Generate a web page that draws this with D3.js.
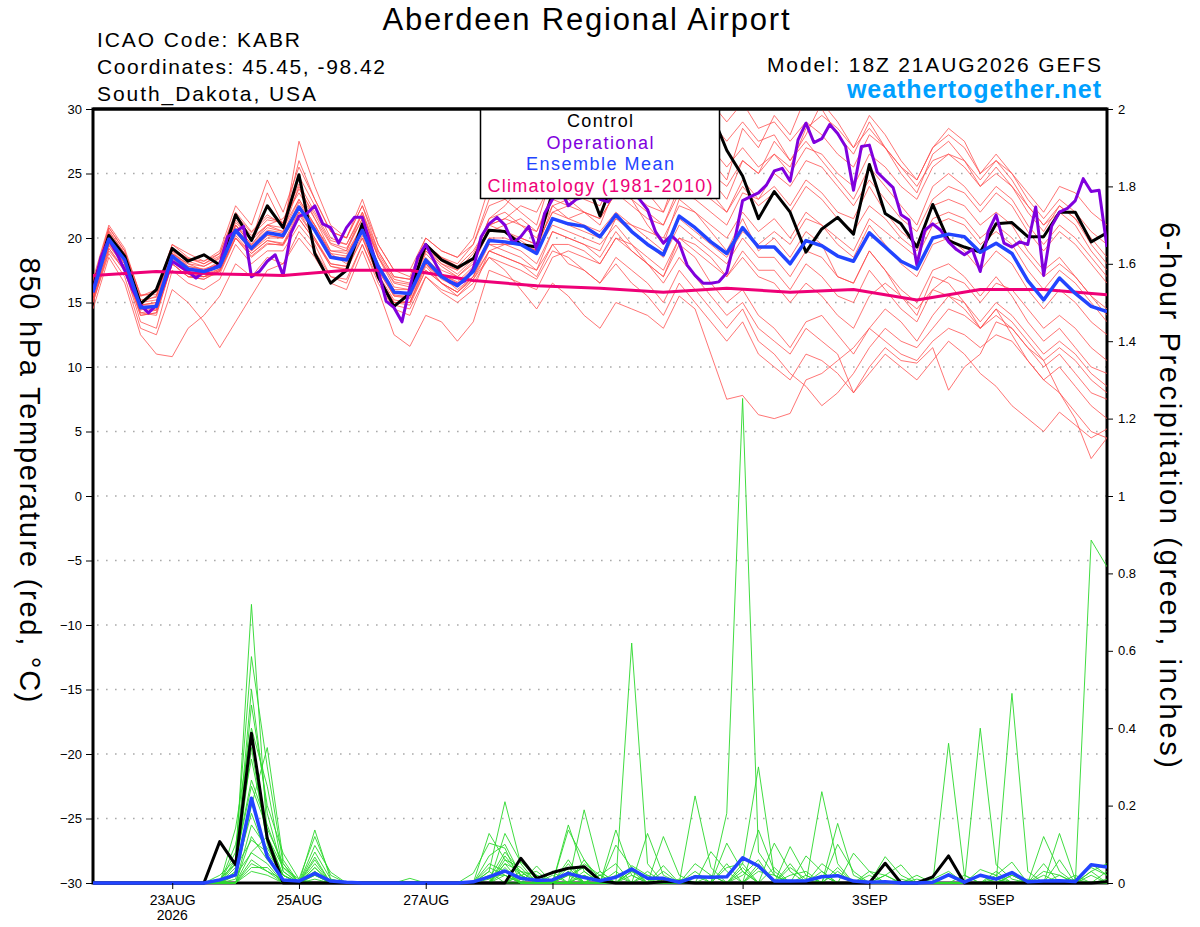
<!DOCTYPE html>
<html><head><meta charset="utf-8">
<script src="https://cdn.jsdelivr.net/npm/d3@7"></script>
<style>
body{margin:0;background:#fff}
svg{display:block}
text{font-family:"Liberation Sans",Arial,Helvetica,sans-serif}
</style>
</head><body>
<svg id="c" width="1200" height="927"></svg>
<script>
// ---------------- DATA ----------------
const runStart = Date.UTC(2026, 7, 21, 18);   // 18Z 21AUG2026
const stepHours = 6;        // ensemble / control / mean
const opStepHours = 3;      // operational
const climStepHours = 24;   // climatology

const tempTicks = [-30,-25,-20,-15,-10,-5,0,5,10,15,20,25,30];
const tempGrid = [-25,-20,-15,-10,-5,0,5,10,15,20,25];
const precipTicks = [0,0.2,0.4,0.6,0.8,1,1.2,1.4,1.6,1.8,2];
const precipTickLabels = ["0","0.2","0.4","0.6","0.8","1","1.2","1.4","1.6","1.8","2"];
const dateTicks = [[2026,7,23],[2026,7,25],[2026,7,27],[2026,7,29],[2026,8,1],[2026,8,3],[2026,8,5]];
const dateTickLabels = ["23AUG","25AUG","27AUG","29AUG","1SEP","3SEP","5SEP"];
const yearLabel = "2026";

const controlTemp = [16.2,20.2,18.6,14.9,16.0,19.2,18.2,18.7,17.9,21.8,19.8,22.5,20.8,
 24.9,18.8,16.5,17.5,21.1,17.0,14.7,15.7,19.5,18.3,17.7,18.4,
 20.6,20.5,19.5,19.3,23.5,25.5,25.0,21.7,25.0,26.5,27.0,27.5,28.0,29.0,29.8,26.8,
 24.8,21.5,23.6,22.0,18.9,20.7,21.6,20.3,25.7,21.9,21.1,19.3,22.6,19.8,19.3,18.9,21.1,21.2,20.1,20.1,22.0,22.0,19.7,20.4];

const meanTemp = [15.8,19.9,18.3,14.6,14.7,18.6,17.6,17.4,17.8,20.6,19.2,20.4,20.2,
 22.4,20.6,18.5,18.3,20.6,17.8,15.8,15.7,18.3,17.0,16.3,17.4,
 19.8,19.7,19.5,18.8,21.5,21.1,20.9,20.1,21.8,20.5,19.5,18.7,21.7,20.8,19.7,18.8,
 20.8,19.3,19.3,18.0,19.8,19.4,18.6,18.2,20.4,19.3,18.2,17.6,20.0,20.3,20.1,18.9,19.6,18.8,16.7,15.2,16.9,15.7,14.7,14.3];

const operationalTemp = [15.8,18.5,19.9,18.8,17.5,16.0,14.8,14.2,14.8,16.5,18.2,17.8,17.4,16.9,17.4,17.6,
 17.9,20.1,20.5,20.9,17.0,17.4,18.2,18.7,17.1,20.4,21.7,21.9,22.5,21.1,20.8,19.6,
 20.8,21.6,21.6,19.6,17.5,15.1,14.6,13.5,16.2,18.5,19.5,18.3,17.1,16.6,16.4,16.7,
 17.6,20.1,21.1,21.6,21.0,19.6,20.1,20.9,19.1,21.9,23.0,23.8,22.5,23.0,23.2,23.8,
 23.0,22.8,23.5,24.0,23.6,23.0,22.2,20.5,19.6,20.2,19.6,17.9,17.1,16.5,16.5,16.6,
 17.3,19.8,22.9,23.2,23.5,24.1,25.2,25.4,24.4,27.6,28.9,27.4,27.7,28.8,28.1,27.1,
 23.7,27.1,27.2,25.1,24.5,23.9,21.8,21.4,17.9,20.6,21.1,20.6,19.7,19.1,18.7,19.1,
 17.4,20.5,21.8,19.6,19.3,19.7,19.5,22.4,17.1,20.9,22.0,22.3,22.9,24.6,23.6,23.7,19.3];

const climatologyTemp = [17.1,17.4,17.2,17.1,17.5,17.5,16.7,16.3,16.1,15.8,16.1,15.8,16.0,15.2,16.0,16.0,15.6];

const ensembleTemp = [
 [16.2,20.5,18.8,15.0,15.2,19.0,18.2,17.8,18.5,21.2,20.0,21.0,21.5,23.5,21.5,19.5,19.0,21.5,18.5,16.5,16.2,19.0,18.0,17.5,18.5,21.5,22.0,21.0,20.5,23.5,24.0,23.0,22.5,25.0,24.0,23.5,22.0,25.5,26.0,24.5,23.0,26.0,25.0,27.5,26.0,28.0,30.5,29.0,27.0,29.5,28.0,26.0,24.5,27.0,28.5,27.5,25.0,26.5,25.0,23.0,21.5,23.0,22.0,20.5,19.5],
 [15.5,19.5,17.8,14.0,14.2,18.0,17.0,16.8,17.5,20.0,18.8,19.8,19.5,21.8,20.0,17.8,17.5,20.0,17.0,15.0,15.0,17.5,16.5,15.5,16.8,18.5,18.0,17.5,16.8,19.0,18.5,17.5,16.5,18.0,16.5,15.5,14.0,16.5,15.0,13.5,12.0,13.5,11.0,10.0,9.0,11.0,10.5,9.5,8.0,9.5,11.0,10.0,9.0,10.5,12.0,11.0,9.5,8.5,7.0,6.0,5.0,6.5,5.5,4.5,5.2],
 [16.5,20.8,19.0,15.5,15.8,19.5,18.5,18.0,18.8,22.0,20.5,21.8,21.0,24.8,22.5,20.0,19.5,22.0,19.0,17.0,16.8,19.5,18.5,17.8,19.0,21.0,20.5,19.8,19.0,22.5,23.0,22.0,21.0,24.0,23.0,21.0,19.5,23.0,22.0,20.5,19.0,21.5,19.0,20.0,18.5,20.5,19.5,17.0,16.5,19.0,17.5,15.5,14.0,17.0,16.5,15.0,13.0,14.5,12.5,10.5,9.0,10.0,8.5,7.0,6.0],
 [15.0,19.0,17.5,13.5,13.0,17.5,16.5,16.0,16.8,19.5,18.0,19.0,19.0,21.0,19.5,17.0,16.5,19.5,16.5,14.5,14.0,17.0,15.8,15.0,16.0,19.0,19.5,20.0,19.5,22.0,21.5,22.0,21.5,23.5,22.5,21.5,21.0,24.0,24.5,23.5,22.0,24.5,23.0,24.0,22.5,24.5,23.5,22.0,21.5,24.0,22.0,20.5,19.5,22.5,23.0,22.5,21.0,22.0,21.0,19.0,17.5,18.5,17.0,15.5,14.5],
 [14.5,18.5,16.5,12.5,11.0,10.8,13.0,14.0,15.5,18.0,17.0,18.5,18.0,20.0,18.5,16.5,16.0,19.0,16.0,12.5,11.6,14.0,13.5,12.0,13.5,17.5,17.0,16.5,16.0,18.5,19.0,18.5,18.0,20.0,19.0,18.0,17.0,20.0,19.5,18.5,17.0,19.0,17.5,17.5,16.0,18.0,17.0,15.5,15.0,17.5,16.0,14.5,13.5,16.0,15.5,14.5,13.0,14.0,13.0,11.5,10.0,11.0,9.5,8.0,7.5],
 [16.0,20.2,18.5,14.8,15.0,18.8,18.0,17.5,18.0,21.0,19.5,21.0,20.5,27.5,24.0,21.0,20.0,23.0,19.5,17.5,17.0,20.0,19.0,18.5,20.0,24.0,23.0,22.0,21.0,25.0,26.0,24.5,23.5,27.0,26.0,25.0,23.5,28.0,27.0,26.0,24.5,28.5,27.0,29.5,28.0,31.0,30.0,28.0,26.5,29.0,27.0,25.0,23.5,26.5,27.5,26.0,24.0,25.5,24.0,22.0,20.5,22.5,21.5,19.5,18.0],
 [15.5,19.8,18.0,14.5,14.5,18.5,17.2,17.0,17.5,20.5,19.0,20.0,20.0,22.0,20.5,18.5,18.5,21.0,17.5,15.5,15.5,18.0,17.0,16.0,17.0,20.0,19.5,19.0,18.0,20.5,20.0,19.5,18.5,20.5,19.0,18.0,17.0,19.5,18.5,16.5,15.0,16.0,14.0,13.0,11.5,13.5,14.0,12.5,11.0,13.0,14.5,13.5,12.0,14.0,15.5,15.0,13.5,15.0,14.0,12.5,11.0,12.0,11.0,9.5,8.5],
 [16.8,21.0,19.2,15.5,16.0,19.5,18.8,18.2,19.0,22.5,21.0,24.5,22.0,25.5,23.0,20.5,20.0,22.5,19.5,17.5,17.5,20.0,19.0,18.5,19.5,22.5,23.0,23.5,23.0,26.0,26.5,27.0,26.0,29.0,28.5,27.5,26.0,29.5,30.5,29.0,27.5,29.0,27.5,28.0,26.0,27.5,26.0,24.5,23.0,25.5,24.0,22.5,21.0,24.0,25.0,24.0,22.5,24.0,23.0,21.0,19.5,21.0,20.0,18.5,17.0],
 [15.2,19.2,17.6,14.2,14.0,18.0,17.0,17.0,17.2,20.0,18.5,19.5,19.5,21.5,19.8,18.0,17.8,20.5,17.0,15.0,15.0,18.0,16.5,15.8,17.0,19.0,18.5,18.0,17.0,19.5,18.0,17.5,16.5,18.5,17.5,16.5,15.0,17.5,16.0,14.5,13.0,14.5,12.0,11.0,9.5,8.5,7.0,8.0,9.5,11.5,13.0,12.0,11.5,13.0,14.5,14.0,13.0,14.5,13.5,12.0,10.5,8.0,6.0,2.9,4.5],
 [16.0,20.0,18.5,15.0,15.5,19.0,17.8,17.5,18.2,21.0,19.8,21.0,20.8,23.0,21.0,19.0,18.8,21.0,18.0,16.0,16.0,18.8,17.5,17.0,18.0,20.5,21.0,21.5,20.5,23.0,22.5,23.5,23.0,24.5,23.5,22.5,22.0,24.5,23.5,23.0,22.0,24.0,22.5,23.5,22.0,24.0,23.0,21.5,20.5,22.5,21.5,20.0,19.0,21.5,22.0,21.5,20.0,21.0,20.0,18.5,17.0,18.0,17.0,15.5,14.0],
 [15.8,19.6,18.2,14.4,14.8,18.6,17.4,17.2,17.6,20.4,19.0,20.2,20.0,22.5,21.0,18.8,18.0,20.5,17.5,15.5,15.3,18.0,16.8,16.2,17.5,20.0,20.0,19.5,19.0,21.5,21.0,20.5,20.0,21.5,20.5,19.5,18.5,21.0,20.0,19.0,18.0,20.0,18.5,18.5,17.0,19.0,18.5,17.0,16.5,19.0,17.5,16.0,15.0,17.5,18.0,17.0,15.5,17.0,15.5,13.5,12.0,13.0,11.5,10.0,9.5],
 [16.2,20.2,18.4,14.8,15.0,18.8,17.8,17.6,18.0,21.0,19.5,20.8,20.5,24.0,21.5,19.0,19.0,22.0,18.5,16.2,16.0,19.0,17.8,17.0,18.2,21.5,22.5,24.0,25.5,28.0,29.0,30.5,29.0,31.0,30.0,28.5,27.0,29.5,28.5,27.0,25.5,27.0,25.5,26.5,25.0,27.0,26.5,25.0,24.0,26.5,25.5,24.0,23.0,25.5,26.5,26.0,24.5,26.0,25.0,23.5,22.0,24.0,23.5,22.0,21.0],
 [15.4,19.4,17.8,14.2,14.4,18.2,17.2,17.0,17.4,20.2,18.8,19.8,19.6,22.0,20.0,18.0,17.8,20.2,17.2,15.2,15.0,17.8,16.5,15.8,17.0,19.5,19.0,18.5,17.5,20.5,20.0,19.5,19.0,21.5,21.0,20.5,20.0,22.5,22.0,21.0,20.0,22.0,20.5,21.5,20.0,22.0,21.0,19.5,18.5,21.0,19.5,18.0,17.0,19.5,20.0,19.0,17.5,19.0,18.0,16.0,14.5,16.0,15.0,13.5,12.5],
 [15.0,18.8,17.0,13.0,12.5,16.0,15.0,13.5,11.5,13.5,15.5,17.5,18.0,20.5,19.0,17.0,16.8,19.5,16.8,14.8,14.5,17.0,16.0,15.5,16.5,18.5,17.5,16.0,14.5,16.5,15.5,14.0,13.0,15.0,14.5,14.0,13.0,15.5,14.5,11.0,7.5,7.8,6.3,6.0,6.4,9.0,9.5,10.5,11.5,13.0,12.0,11.0,10.5,12.0,13.0,12.5,11.5,12.5,12.0,10.5,9.0,8.0,6.5,5.0,4.5],
 [16.4,20.6,18.8,15.2,15.4,19.2,18.4,18.0,18.6,21.6,20.2,21.4,21.2,24.2,22.0,19.8,19.5,21.8,18.8,16.8,16.5,19.2,18.2,17.5,18.8,21.0,21.5,21.0,20.0,22.5,21.5,21.0,20.5,22.0,21.0,20.0,19.0,21.5,20.5,19.5,18.5,20.5,19.5,20.5,19.5,21.5,21.0,20.0,19.0,21.5,20.5,19.5,18.5,21.0,21.5,21.0,19.5,20.5,19.5,17.5,16.0,17.5,16.5,15.0,13.5],
 [16.0,20.4,18.6,14.6,14.8,18.8,18.0,17.8,18.4,21.4,19.8,23.5,21.0,26.0,23.0,20.5,20.0,22.5,19.0,17.0,16.8,19.5,18.5,18.0,19.5,23.0,24.0,24.5,24.0,26.5,27.0,26.5,26.0,28.0,27.5,26.5,25.5,28.5,29.0,30.5,29.0,30.5,28.5,29.0,27.5,29.0,28.0,26.5,25.5,28.0,27.0,25.5,24.5,27.0,28.0,27.0,25.0,26.0,24.5,22.5,21.0,22.0,21.0,19.0,17.5],
 [15.6,19.6,18.0,14.6,14.4,18.4,17.4,17.0,17.6,20.6,19.2,20.2,20.0,22.8,20.8,18.6,18.4,20.8,17.8,15.6,15.4,18.4,17.2,16.5,17.6,19.5,19.5,19.5,19.0,21.0,20.5,20.0,19.5,21.0,19.5,18.0,16.5,18.5,17.0,15.5,14.0,15.0,13.0,12.0,11.0,13.0,12.0,11.0,8.0,10.0,11.5,10.5,10.3,11.5,8.2,10.0,11.0,13.5,13.0,11.5,10.5,11.5,10.5,9.0,8.0],
 [16.6,20.8,19.0,15.6,15.6,19.2,18.4,18.2,18.8,21.8,20.4,21.6,21.2,23.8,21.8,19.6,19.2,21.5,18.6,16.6,16.4,19.2,18.0,17.2,18.4,20.5,20.5,20.0,19.5,22.0,22.5,22.0,21.5,23.5,23.0,22.0,21.0,23.5,23.0,22.0,21.0,23.5,23.0,25.0,24.0,26.0,25.5,24.0,22.5,24.5,23.0,21.5,20.5,23.0,24.0,23.5,22.0,23.5,22.5,20.5,19.0,20.5,19.5,18.0,16.5],
 [15.2,19.2,17.4,14.0,14.2,18.0,17.0,16.8,17.4,20.0,18.6,19.6,19.4,21.5,19.8,17.8,17.6,20.0,17.0,15.0,14.8,17.5,16.5,15.8,16.8,19.0,18.5,18.0,17.5,19.5,19.5,19.0,18.0,20.0,19.5,18.5,17.5,20.0,19.0,18.0,17.0,18.5,17.0,16.5,15.0,16.5,15.5,14.0,13.0,15.5,16.5,15.5,14.5,16.0,17.0,16.5,15.0,16.5,16.0,14.5,13.0,14.0,13.0,11.5,10.5],
 [16.0,20.0,18.2,14.8,14.8,18.6,17.6,17.4,17.8,20.8,19.4,20.6,20.4,23.0,21.0,18.8,18.6,21.0,18.0,15.8,15.6,18.5,17.2,16.6,17.8,21.0,21.5,22.5,22.0,24.5,25.0,25.5,24.5,26.5,26.0,25.0,24.0,26.5,26.0,25.0,24.0,26.0,25.0,26.5,25.5,28.5,29.5,28.5,27.0,28.5,27.0,25.5,24.0,26.0,26.5,25.5,24.0,25.0,24.0,22.5,21.0,22.5,21.5,20.0,18.5]
];

const controlPrecip = [0,0,0,0,0,0,0,0,0.107,0.047,0.387,0.115,0,
 0,0,0,0,0,0,0,0,0,0,0,0,0,
 0,0.064,0.012,0.027,0.038,0.042,0.006,0,0,0,0.003,0.003,0,
 0,0,0,0,0,0,0,0,0,0,0,0.051,0,
 0,0.016,0.07,0,0,0,0,0,0,0,0,0,0.003];

const meanPrecip = [0,0,0,0,0,0,0,0,0.008,0.021,0.219,0.068,0.008,
 0.005,0.025,0.005,0.002,0,0,0,0,0,0,0,0.003,0.016,
 0.031,0.012,0.007,0.008,0.025,0.014,0.006,0.015,0.036,0.012,0.012,0.002,0.016,
 0.015,0.016,0.065,0.044,0.005,0.005,0.006,0.016,0.019,0.005,0.002,0.003,0,
 0,0.002,0.021,0.002,0.02,0.01,0.027,0.003,0.005,0.006,0.004,0.047,0.041];

const ensemblePrecip = [
 [0,0,0,0,0,0,0,0,.01,.05,.72,.12,.02, 0,.137,.01,0,0,0,0,0,0,0,0,0,.03, .21,.05,0,0,.02,0,0,0,.04,0,0,0,0, 0,0,.05,.3,.02,0,0,.02,0,0,0,0,0, 0,0,0,0,0,.01,0,0,0,0,0,0,0],
 [0,0,0,0,0,0,0,0,0,.08,.585,.3,.05, 0,.02,0,0,0,0,0,0,0,0,0,0,.128, .06,.02,0,0,.15,.03,0,0,0,0,0,0,.02, 0,.18,1.252,.08,.02,0,0,0,0,0,0,0,0, 0,0,0,0,0,0,0,0,0,0,0,.05,.02],
 [0,0,0,0,0,0,0,0,0,.03,.46,.2,.077, .01,.12,.02,0,0,0,0,0,0,0,0,0,0, .128,.054,.02,0,0,.189,.03,0,.62,.05,0,0,0, 0,0,0,0,0,0,0,.236,.05,0,0,0,0, 0,0,.02,0,0,0,0,0,0,0,0,0,0],
 [0,0,0,0,0,0,0,0,0,.142,.4,.25,.03, 0,.097,.028,0,0,0,0,0,0,0,0,.025,.103, .09,0,.044,0,0,0,0,.137,.02,0,0,0,.225, .04,0,0,0,0,0,0,0,.154,.02,0,0,0, 0,0,0,0,0,0,0,0,0,0,0,.886,.817],
 [0,0,0,0,0,0,0,0,.02,.06,.266,.15,.04, 0,.067,0,0,0,0,0,0,0,0,0,0,0, .05,.03,0,0,.137,.06,0,0,0,.128,.02,0,0, 0,0,0,0,0,.094,.02,0,0,0,0,0,0, 0,0,.361,.02,0,0,0,0,.02,0,0,0,0],
 [0,0,0,0,0,0,0,0,0,.04,.111,.08,.02, 0,.03,0,0,0,0,0,.012,0,0,0,0,.04, .02,0,0,0,.06,0,.02,0,0,0,.12,.02,0, 0,0,0,.137,.03,0,0,0,0,0,0,.068,.02, 0,0,0,0,.4,.047,.01,0,0,0,0,0,0],
 [0,0,0,0,0,0,0,0,0,.02,.078,.05,0, 0,.01,0,0,0,0,0,0,0,0,0,0,.02, .02,0,0,.02,0,.06,.01,0,0,0,.045,0,0, 0,.103,.03,0,0,0,.07,.03,0,0,0,0,0, 0,0,0,0,0,0,.49,.03,0,.06,0,0,0],
 [0,0,0,0,0,0,0,0,0,0,.05,.03,.01, 0,0,0,0,0,0,0,0,0,0,0,0,0, 0,.03,.02,0,0,0,0,.098,.04,0,0,0,0, .081,.03,0,0,.103,.03,0,0,0,.077,.03,0,0, 0,0,0,0,0,0,0,0,.12,.03,0,0,.03],
 [0,0,0,0,0,0,0,0,0,.01,.2,.35,.06, 0,.04,0,0,0,0,0,0,0,0,0,0,0, .06,.04,0,0,.04,0,0,0,.045,.02,0,0,0, 0,0,0,.05,0,0,0,0,.1,.03,0,0,0, 0,0,0,0,0,0,0,0,0,.128,.008,.04,.02],
 [0,0,0,0,0,0,0,0,0,.1,.32,.12,.02, 0,.05,0,0,0,0,0,0,0,0,0,0,.07, .1,.02,0,0,.02,.04,0,0,0,.03,0,0,0, 0,0,.02,.06,0,0,0,0,0,0,0,.02,.047, 0,0,0,0,0,.02,.054,0,0,0,0,.02,0],
 [0,0,0,0,0,0,0,0,0,0,.15,.09,.02, 0,0,0,0,0,0,0,0,0,0,0,0,0, .03,0,0,0,0,.02,0,.03,0,0,0,0,.05, .02,0,0,0,0,0,0,.05,.02,0,0,0,0, 0,.01,.03,0,.035,.02,0,0,0,0,0,0,0],
 [0,0,0,0,0,0,0,0,0,.05,.5,.18,.03, 0,.08,.01,0,0,0,0,0,0,0,0,0,.01, .08,.03,0,0,.03,0,0,0,.02,0,0,0,0, 0,.04,.05,0,0,.02,.03,0,0,0,.03,.02,0, 0,0,0,0,0,0,0,0,.03,.02,0,0,0],
 [0,0,0,0,0,0,0,0,0,0,.08,.12,.04, .01,0,0,0,0,0,0,0,0,0,0,0,0, 0,.02,.03,0,0,0,.02,.05,0,0,0,0,0, 0,0,0,.03,.02,0,0,0,.04,0,0,0,0, 0,0,.02,0,0,0,0,0,0,0,0,.03,.05],
 [0,0,0,0,0,0,0,0,0,.02,.35,.1,0, 0,.02,0,0,0,0,0,0,0,0,0,0,0, .04,0,0,0,0,.03,0,0,0,0,.03,0,0, 0,0,.04,0,0,0,0,.02,0,0,0,0,0, .01,0,0,0,0,0,.02,0,0,0,.01,0,0],
 [0,0,0,0,0,0,0,0,0,0,.03,.02,0, 0,0,0,0,0,0,0,0,0,0,0,0,.05, .03,0,0,0,.03,0,0,0,.03,.01,0,0,0, 0,0,0,0,0,.04,.01,0,0,0,0,0,0, 0,0,0,0,0,.03,0,0,0,0,0,0,0],
 [0,0,0,0,0,0,0,0,0,.06,.25,.14,.05, 0,.06,0,0,0,0,0,0,0,0,0,0,0, .07,.02,0,0,0,.05,.02,0,0,0,0,0,.03, 0,0,0,.04,0,0,0,0,.03,0,0,0,0, 0,0,0,.02,0,0,0,0,0,.02,0,0,0],
 [0,0,0,0,0,0,0,0,0,0,.12,.06,.01, 0,.03,0,0,0,0,0,0,0,0,0,0,0, .02,0,0,0,.05,0,0,.02,0,0,0,0,0, 0,.05,0,0,.04,0,0,0,0,0,.02,0,0, 0,0,0,0,.02,0,0,0,.05,0,0,0,.01],
 [0,0,0,0,0,0,0,0,0,0,.04,.04,0, 0,0,0,0,0,0,0,0,0,0,0,0,.03, 0,0,.02,0,0,0,.03,0,0,0,0,.01,0, 0,0,0,0,0,.05,0,0,0,0,0,0,.01, 0,0,0,0,0,0,.02,0,0,0,0,0,0],
 [0,0,0,0,0,0,0,0,0,.03,.18,.07,0, 0,.04,0,0,0,0,0,0,0,0,0,0,0, .05,0,0,.03,0,0,0,0,.03,0,0,0,0, 0,0,.03,0,0,0,.02,0,0,0,0,0,0, .02,0,0,0,0,.01,0,0,0,0,0,.03,0],
 [0,0,0,0,0,0,0,0,0,0,.06,.03,0, 0,0,0,0,0,0,0,0,0,0,0,0,0, 0,.02,0,0,0,.02,0,0,0,.02,0,0,0, .02,0,0,0,0,0,0,.03,0,0,0,.02,0, 0,0,0,0,0,0,0,.01,0,0,.02,0,0]
];

const titleText = "Aberdeen Regional Airport";
const infoLines = ["ICAO Code: KABR", "Coordinates: 45.45, -98.42", "South_Dakota, USA"];
const modelText = "Model: 18Z 21AUG2026 GEFS";
const siteText = "weathertogether.net";
const leftTitle = "850 hPa Temperature (red, \u00B0C)";
const rightTitle = "6-hour Precipitation (green, inches)";
const legendItems = ["Control", "Operational", "Ensemble Mean", "Climatology (1981-2010)"];

// ---------------- STYLE ----------------
const colors = {control:"#000000", operational:"#8000dd", mean:"#2244ff", clim:"#ee0077",
  ens:"#ff4a4a", ensP:"#2bd82b", site:"#00a0ff", grid:"#aaaaaa"};
const legendColors = [colors.control, colors.operational, colors.mean, colors.clim];

// ---------------- CHART ----------------
const svg = d3.select("#c");
const P = {left:93, right:1107, top:109, bottom:883};
const H6 = 3600e3;
const tAt = (i, step) => new Date(runStart + i * step * H6);
const nSteps = controlTemp.length - 1;
const x = d3.scaleUtc().domain([tAt(0, stepHours), tAt(nSteps, stepHours)]).range([P.left, P.right]);
const yT = d3.scaleLinear().domain([-30, 30]).range([P.bottom, P.top]);
const yP = d3.scaleLinear().domain([0, 2]).range([P.bottom, P.top]);

svg.append("rect").attr("width",1200).attr("height",927).attr("fill","#fff");

svg.append("defs").append("clipPath").attr("id","clip")
  .append("rect").attr("x",P.left).attr("y",P.top).attr("width",P.right-P.left).attr("height",P.bottom-P.top+3);

// grid
svg.append("g").selectAll("line").data(tempGrid).join("line")
  .attr("x1",P.left+4).attr("x2",P.right).attr("y1",d=>yT(d)).attr("y2",d=>yT(d))
  .attr("stroke",colors.grid).attr("stroke-width",1.6).attr("stroke-dasharray","1.6,7.4");

// frame
svg.append("rect").attr("x",P.left).attr("y",P.top).attr("width",P.right-P.left).attr("height",P.bottom-P.top)
  .attr("fill","none").attr("stroke","#000").attr("stroke-width",3);

const lineT = (step) => d3.line().x((d,i)=>x(tAt(i, step))).y(d=>yT(d));
const lineP = d3.line().x((d,i)=>x(tAt(i, stepHours))).y(d=>yP(d));

const g = svg.append("g").attr("clip-path","url(#clip)");
g.selectAll(".ens").data(ensembleTemp).join("path")
  .attr("d", lineT(stepHours)).attr("fill","none").attr("stroke",colors.ens).attr("stroke-width",0.9).attr("stroke-opacity",0.85);
g.selectAll(".ensp").data(ensemblePrecip).join("path")
  .attr("d", lineP).attr("fill","none").attr("stroke",colors.ensP).attr("stroke-width",0.9);

g.append("path").datum(controlPrecip).attr("d",lineP).attr("fill","none").attr("stroke",colors.control).attr("stroke-width",3).attr("stroke-linejoin","round");
g.append("path").datum(meanPrecip).attr("d",lineP).attr("fill","none").attr("stroke",colors.mean).attr("stroke-width",3.5).attr("stroke-linejoin","round");

g.append("path").datum(controlTemp).attr("d",lineT(stepHours)).attr("fill","none").attr("stroke",colors.control).attr("stroke-width",3).attr("stroke-linejoin","round");
g.append("path").datum(operationalTemp).attr("d",lineT(opStepHours)).attr("fill","none").attr("stroke",colors.operational).attr("stroke-width",3).attr("stroke-linejoin","round");
g.append("path").datum(climatologyTemp).attr("d",lineT(climStepHours)).attr("fill","none").attr("stroke",colors.clim).attr("stroke-width",3).attr("stroke-linejoin","round");
g.append("path").datum(meanTemp).attr("d",lineT(stepHours)).attr("fill","none").attr("stroke",colors.mean).attr("stroke-width",3.5).attr("stroke-linejoin","round");

// axes
const styleAxis = sel => { sel.select(".domain").remove(); sel.selectAll("text").attr("font-size",13).attr("fill","#000").attr("font-family","Liberation Sans, Arial, sans-serif"); sel.selectAll("line").attr("stroke","#000"); };
svg.append("g").attr("transform",`translate(${P.left},0)`)
  .call(d3.axisLeft(yT).tickValues(tempTicks).tickFormat(d3.format("d")).tickSize(7).tickPadding(4)).call(styleAxis);
svg.append("g").attr("transform",`translate(${P.right},0)`)
  .call(d3.axisRight(yP).tickValues(precipTicks).tickFormat((d,i)=>precipTickLabels[i]).tickSize(6).tickPadding(5)).call(styleAxis);
const dateVals = dateTicks.map(d=>new Date(Date.UTC(d[0],d[1],d[2])));
const xa = svg.append("g").attr("transform",`translate(0,${P.bottom})`)
  .call(d3.axisBottom(x).tickValues(dateVals).tickFormat((d,i)=>dateTickLabels[i]).tickSize(6).tickPadding(6)).call(styleAxis);
xa.selectAll("text").attr("font-size",14);
svg.append("text").attr("x",x(dateVals[0])).attr("y",920).attr("text-anchor","middle").attr("font-size",14).text(yearLabel);

// titles
svg.append("text").attr("x",586).attr("y",30).attr("text-anchor","middle").attr("font-size",31)
  .attr("textLength",407).attr("lengthAdjust","spacing").text(titleText);
const infoLen = [203, 288, 219];
infoLines.forEach((t,i)=> svg.append("text").attr("x",97).attr("y",47+i*27).attr("font-size",21)
  .attr("textLength",infoLen[i]).attr("lengthAdjust","spacing").text(t));
svg.append("text").attr("x",1101).attr("y",72).attr("text-anchor","end").attr("font-size",21)
  .attr("textLength",334).attr("lengthAdjust","spacing").text(modelText);
svg.append("text").attr("x",1101).attr("y",98).attr("text-anchor","end").attr("font-size",25).attr("font-weight","bold")
  .attr("fill",colors.site).attr("textLength",254).attr("lengthAdjust","spacing").text(siteText);

svg.append("text").attr("transform","translate(20,480) rotate(90)").attr("text-anchor","middle").attr("font-size",29)
  .attr("textLength",445).attr("lengthAdjust","spacing").text(leftTitle);
svg.append("text").attr("transform","translate(1160,495) rotate(90)").attr("text-anchor","middle").attr("font-size",29)
  .attr("textLength",546).attr("lengthAdjust","spacing").text(rightTitle);

// legend
const lg = svg.append("g");
lg.append("rect").attr("x",480.5).attr("y",P.top).attr("width",239).attr("height",89.5)
  .attr("fill","#fff").attr("stroke","#000").attr("stroke-width",1.5);
const legLen = [66,107,148,225];
legendItems.forEach((t,i)=> lg.append("text").attr("x",600).attr("y",127+i*21.5).attr("text-anchor","middle")
  .attr("font-size",18).attr("fill",legendColors[i]).attr("textLength",legLen[i]).attr("lengthAdjust","spacing").text(t));
// redraw top frame edge over legend
svg.append("line").attr("x1",P.left).attr("x2",P.right).attr("y1",P.top).attr("y2",P.top).attr("stroke","#000").attr("stroke-width",3);
</script>
</body></html>
